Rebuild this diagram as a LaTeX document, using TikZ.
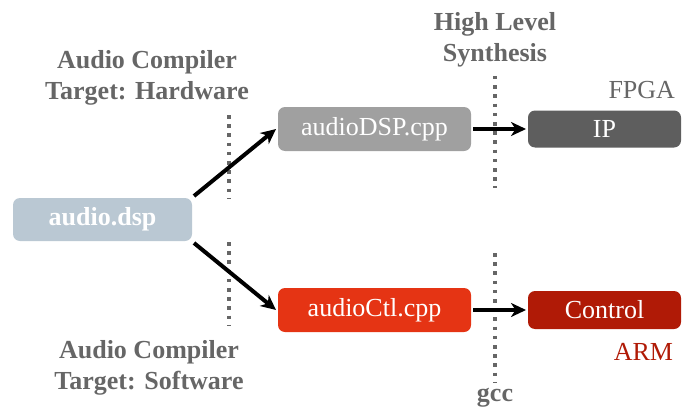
\documentclass[tikz,border=0pt]{standalone}
\usepackage{fontspec}
\setmainfont{Liberation Serif}
\usetikzlibrary{arrows.meta,positioning}

\definecolor{dspblue}{RGB}{186,200,211}
\definecolor{cppgrey}{RGB}{160,160,160}
\definecolor{ipgrey}{RGB}{94,94,94}
\definecolor{ctlred}{RGB}{229,52,20}
\definecolor{armred}{RGB}{176,26,6}
\definecolor{labelgrey}{RGB}{102,102,102}

\newcommand{\bigfont}{\fontsize{26}{31}\selectfont}

\tikzset{
  box/.style={rounded corners=7pt, text=white, inner sep=0pt, font=\bigfont},
  stage/.style={font=\bigfont\bfseries, text=labelgrey, align=center, inner sep=0pt},
  divider/.style={draw=labelgrey, line width=3.5pt, dash pattern=on 3.5pt off 5.7pt},
}

\begin{document}
\begin{tikzpicture}[x=1pt,y=-1pt,>={Stealth[length=15pt,width=14pt,inset=4.5pt]},line width=4pt]
    \useasboundingbox (0,0) rectangle (692,409);

    \node[box, fill=dspblue, minimum width=179pt, minimum height=43pt, font=\bigfont\bfseries] (dsp) at (102.5,219.5) {audio.dsp};
    \node[box, fill=cppgrey, minimum width=193pt, minimum height=44pt] (dspcpp) at (374.5,129) {audioDSP.cpp};
    \node[box, fill=ctlred, minimum width=193pt, minimum height=44pt] (ctlcpp) at (374.5,310) {audioCtl.cpp};
    \node[box, fill=ipgrey, minimum width=153pt, minimum height=37pt] (ip) [right=53pt of dspcpp] {IP};
    \node[box, fill=armred, minimum width=153pt, minimum height=38pt] (ctl) [right=53pt of ctlcpp] {Control};

    \node[stage, anchor=north] (hwlabel) at (147,48) {Audio Compiler\\Target: Hardware};
    \node[stage, anchor=north] (swlabel) at (149,338) {Audio Compiler\\Target: Software};
    \node[stage, anchor=north] (hlslabel) at (495,10) {High Level\\Synthesis};
    \node[stage, anchor=base] (gcclabel) at (495,401) {gcc};
    \node[anchor=base east, inner sep=0pt, text=labelgrey, font=\bigfont] (fpga) at (677,99) {FPGA};
    \node[anchor=base east, inner sep=0pt, text=armred, font=\bigfont] (arm) at (675,360) {ARM};

    % dividers
    \draw[divider] (229,115) -- (229,199);
    \draw[divider] (229,242) -- (229,325);
    \draw[divider] (495,76) -- (495,188);
    \draw[divider] (495,253) -- (495,382);

    \draw[->] (dsp.north east) -- (dspcpp.west);
    \draw[->] (dsp.south east) -- (ctlcpp.west);
    \draw[->] (dspcpp) -- (ip);
    \draw[->] (ctlcpp) -- (ctl);
\end{tikzpicture}
\end{document}
